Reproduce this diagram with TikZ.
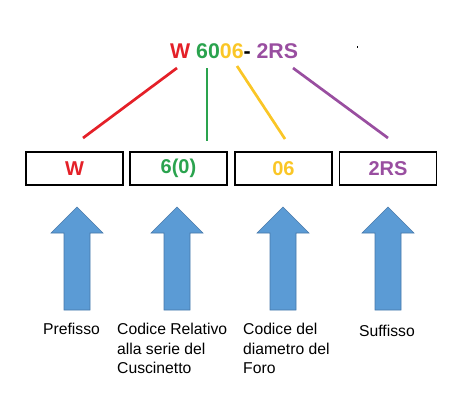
\documentclass[tikz,border=0pt]{standalone}
\usepackage{fontspec}
\setmainfont{Liberation Sans}
\definecolor{cred}{RGB}{228,32,40}
\definecolor{cgreen}{RGB}{42,163,78}
\definecolor{cyellow}{RGB}{250,198,38}
\definecolor{cpurple}{RGB}{153,78,160}
\definecolor{bfill}{RGB}{91,155,213}
\definecolor{bedge}{RGB}{70,120,170}
\tikzset{
  codebox/.style={draw=black, line width=1.2pt, minimum width=97pt, minimum height=33pt, inner sep=0pt,
    font=\fontsize{20}{23}\selectfont\bfseries},
  lead/.style={line width=2.7pt},
  bigarrow/.style={fill=bfill, draw=bedge, line width=0.6pt},
  caption/.style={anchor=north west, inner sep=0pt, align=left, font=\fontsize{15.7}{19.5}\selectfont},
}
\newcommand{\myuparrow}[1]{%
  \draw[bigarrow] (#1,207) -- (#1+26,233) -- (#1+13,233) -- (#1+13,310) -- (#1-13,310) -- (#1-13,233) -- (#1-26,233) -- cycle;}
\begin{document}
\begin{tikzpicture}[x=1pt,y=-1pt]
\useasboundingbox (0,0) rectangle (458,400);
% title
\node[anchor=base west, inner sep=0pt, font=\fontsize{21.3}{25}\selectfont\bfseries] (title) at (170,58)
  {\textcolor{cred}{W} \textcolor{cgreen}{60}\textcolor{cyellow}{06}- \textcolor{cpurple}{2RS}};
\fill (357,46) rectangle (358.2,48);
% boxes
\node[codebox, text=cred] (b1) at (74.5,168.5) {W};
\node[codebox, text=cgreen] (b2) at (178.5,168.5) {6(0)};
\node[codebox, text=cyellow] (b3) at (283.5,168.5) {06};
\node[codebox, text=cpurple] (b4) at (388,168.5) {2RS};
% lead lines
\coordinate (t1) at (177,68); \coordinate (e1) at (83,138);
\coordinate (t2) at (207,68); \coordinate (e2) at (207,141);
\coordinate (t3) at (237,66); \coordinate (e3) at (285,139);
\coordinate (t4) at (293,68); \coordinate (e4) at (388,138);
\draw[lead, cred] (t1) -- (e1);
\draw[lead, cgreen] (t2) -- (e2);
\draw[lead, cyellow] (t3) -- (e3);
\draw[lead, cpurple] (t4) -- (e4);
% arrows
\myuparrow{77}
\myuparrow{177}
\myuparrow{283}
\myuparrow{388}
% captions
\node[caption] (c1) at (43,323) {Prefisso};
\node[caption] (c2) at (117,323) {Codice Relativo\\alla serie del\\Cuscinetto};
\node[caption] (c3) at (243,323) {Codice del\\diametro del\\Foro};
\node[caption] (c4) at (359,325) {Suffisso};
\end{tikzpicture}
\end{document}
